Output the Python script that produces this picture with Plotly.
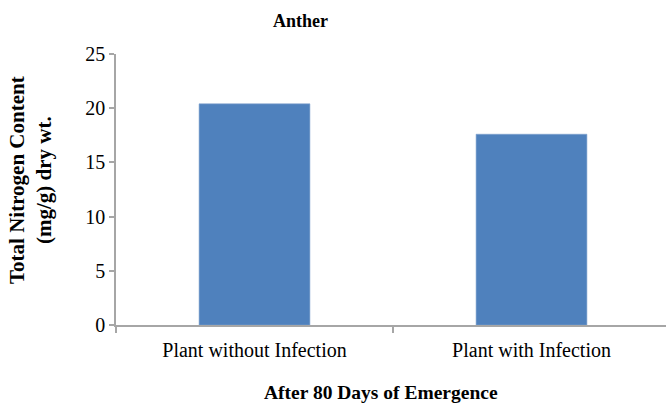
import plotly.graph_objects as go

categories = ["Plant without Infection", "Plant with Infection"]
values = [20.4, 17.6]
y_ticks = [0, 5, 10, 15, 20, 25]

W, H = 666, 403
L, R, T, B = 116, 0, 54, 78
plot_w = W - L - R
plot_h = H - T - B
cat_px = 277.0
x_max = -0.5 + plot_w / cat_px


def px(x):
    return (x - L) / plot_w


def py(y):
    return (H - B - y) / plot_h


fig = go.Figure(go.Bar(
    x=categories, y=values, width=0.4,
    marker=dict(color="#4f81bd", line=dict(color="#7ea1cf", width=0.6)),
))

serif = "Liberation Serif, serif"

fig.update_layout(
    width=W, height=H,
    margin=dict(l=L, r=R, t=T, b=B, pad=0, autoexpand=False),
    paper_bgcolor="white", plot_bgcolor="white",
    showlegend=False,
    font=dict(family=serif, color="#000000", size=17),
    xaxis=dict(
        type="category", range=[-0.5, x_max], automargin=False,
        showline=True, linecolor="#a6a6a6", linewidth=1.5,
        ticks="outside", tickson="boundaries", ticklen=6, tickcolor="#a6a6a6", tickwidth=1.5,
        showgrid=False, tickfont=dict(size=20, family=serif), ticklabelstandoff=6,
    ),
    yaxis=dict(
        range=[0, 25], tickvals=y_ticks, automargin=False,
        showline=True, linecolor="#a6a6a6", linewidth=1.5,
        ticks="outside", ticklen=5, tickcolor="#a6a6a6", tickwidth=1.5,
        showgrid=False, zeroline=False, tickfont=dict(size=20, family=serif),
    ),
    annotations=[
        dict(text="<b>Anther</b>", x=px(300), y=py(21), xref="paper", yref="paper",
             xanchor="center", yanchor="middle", showarrow=False,
             font=dict(size=18, family=serif)),
        dict(text="<b>After 80 Days of Emergence</b>", x=px(381), y=py(392), xref="paper", yref="paper",
             xanchor="center", yanchor="middle", showarrow=False,
             font=dict(size=19.5, family=serif)),
        dict(text="<b>Total Nitrogen Content<br>(mg/g) dry wt.</b>", x=px(30), y=py(180),
             xref="paper", yref="paper", xanchor="center", yanchor="middle", showarrow=False,
             textangle=-90, font=dict(size=21, family=serif)),
    ],
)

fig.write_html("out.html", config={"displayModeBar": False},
               post_script="document.body.style.margin='0px';")
